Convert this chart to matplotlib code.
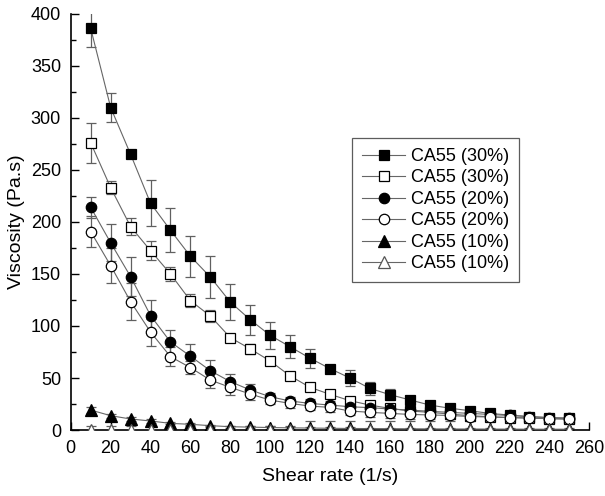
import numpy as np
import matplotlib.pyplot as plt
from matplotlib.ticker import MultipleLocator

plt.rcParams['font.family'] = ['Liberation Sans', 'DejaVu Sans']

shear = np.arange(10, 260, 10)

# CA55 (30%) filled squares
v30a = [386, 310, 265, 218, 192, 167, 147, 123, 106, 91, 80, 69, 59, 50, 40, 34,
        29, 24, 21, 18.6, 16, 14.4, 12.8, 11.8, 11.2]
e30a = [18, 14, 3, 22, 21, 19.5, 20, 17.5, 14.5, 13, 11, 9, 3, 7.5, 6, 5,
        4, 3, 2.5, 2, 2, 2, 2, 2, 2]
# CA55 (30%) open squares
v30b = [276, 233, 195.5, 172.4, 150, 124.3, 109.6, 88.8, 78, 66.3, 52, 41, 34.3, 28.2,
        24, 20.8, 18.3, 17, 15.4, 13.8, 12.8, 12, 11.5, 11, 10.5]
e30b = [19, 6, 8.5, 9, 6.5, 6.5, 5.5, 3, 5, 3, 3, 3, 3, 3, 3, 3, 3, 3, 3, 2.5,
        2.5, 2, 2, 2, 2]
# CA55 (20%) filled circles
v20a = [214, 180, 147.4, 110, 84.6, 71, 57, 46.5, 38.5, 32, 27.9, 25.6, 24, 22.4,
        21.5, 20.2, 19.2, 18, 17, 16, 15, 14, 13, 12, 11.5]
e20a = [10, 18, 18.5, 15, 12, 12, 10, 7, 6, 4, 4, 4, 4, 4, 4, 4, 4, 4, 3, 3,
        3, 3, 3, 3, 3]
# CA55 (20%) open circles
v20b = [190.7, 158, 123.4, 94.2, 70.5, 60, 48, 41, 34.6, 28.8, 25.6, 23, 21.8, 18.3,
        17, 16, 15, 14.5, 14, 13, 12.5, 12, 11.5, 11, 10.5]
e20b = [15, 17, 18, 13, 9, 6, 8, 7, 6, 4, 4, 4, 4, 4, 4, 4, 4, 4, 3, 3,
        3, 3, 3, 3, 3]
# CA55 (10%) filled triangles
v10a = [19.2, 13.8, 10.6, 8.7, 6.4, 5.5, 4.2, 3.2, 2.8, 2.4, 2.1, 1.9, 1.7, 1.5,
        1.4, 1.3, 1.2, 1.1, 1.0, 1.0, 0.9, 0.9, 0.8, 0.8, 0.8]
e10a = [3, 2, 1.5, 1.5, 1, 1, 1, 1, 1, 1, 1, 1, 1, 1, 1, 1, 1, 1, 1, 1,
        1, 1, 1, 1, 1]
# CA55 (10%) open triangles
v10b = [0.5, 0.5, 0.5, 0.5, 0.5, 0.5, 0.5, 0.5, 0.5, 0.5, 0.5, 0.5, 0.5, 0.5,
        0.5, 0.5, 0.5, 0.5, 0.5, 0.5, 0.5, 0.5, 0.5, 0.5, 0.5]
e10b = [3, 3, 3, 3, 3, 3, 3, 3, 3, 3, 3, 8, 8, 8, 8, 8, 8, 8, 8, 8,
        8, 8, 8, 8, 8]

labels = ['CA55 (30%)', 'CA55 (30%)', 'CA55 (20%)', 'CA55 (20%)', 'CA55 (10%)', 'CA55 (10%)']

fig = plt.figure(figsize=(6.05, 4.96), dpi=100)
ax = fig.add_axes([0.117, 0.133, 0.857, 0.839])

styles = [
    (v30a, e30a, 's', 'black', 'black', 7),
    (v30b, e30b, 's', 'white', 'black', 7),
    (v20a, e20a, 'o', 'black', 'black', 7.5),
    (v20b, e20b, 'o', 'white', 'black', 7.5),
    (v10a, e10a, '^', 'black', 'black', 8),
    (v10b, e10b, '^', 'white', '#555555', 8),
]

handles = []
for (v, e, m, fc, ec, ms), lab in zip(styles, labels):
    ax.errorbar(shear, v, yerr=e, fmt='none', ecolor='#606060', elinewidth=0.9,
                capsize=3.5, capthick=0.9, zorder=2)
    h, = ax.plot(shear, v, color='#666666', lw=0.8, marker=m, markersize=ms,
                 markerfacecolor=fc, markeredgecolor=ec, markeredgewidth=0.9,
                 label=lab, zorder=3)
    handles.append(h)

ax.set_xlim(0, 260)
ax.set_ylim(0, 400)
ax.xaxis.set_major_locator(MultipleLocator(20))
ax.xaxis.set_minor_locator(MultipleLocator(10))
ax.yaxis.set_major_locator(MultipleLocator(50))
ax.yaxis.set_minor_locator(MultipleLocator(25))
ax.tick_params(which='both', direction='in', labelsize=13)
ax.tick_params(which='major', length=6, width=1, pad=7)
ax.tick_params(which='minor', length=3.5, width=1)
ax.spines['top'].set_visible(False)
ax.spines['right'].set_visible(False)
for s in ['left', 'bottom']:
    ax.spines[s].set_linewidth(1.2)

ax.set_xlabel('Shear rate (1/s)', fontsize=14, labelpad=8)
ax.set_ylabel('Viscosity (Pa.s)', fontsize=14, labelpad=4)

leg = ax.legend(handles=handles, loc='upper left', bbox_to_anchor=(0.5425, 0.702),
                fontsize=13, frameon=True, fancybox=False, edgecolor='#333333',
                handlelength=2.4, labelspacing=0.25, borderpad=0.55, handletextpad=0.3,
                borderaxespad=0)
leg.get_frame().set_linewidth(0.9)

fig.savefig('out.png', dpi=100)
